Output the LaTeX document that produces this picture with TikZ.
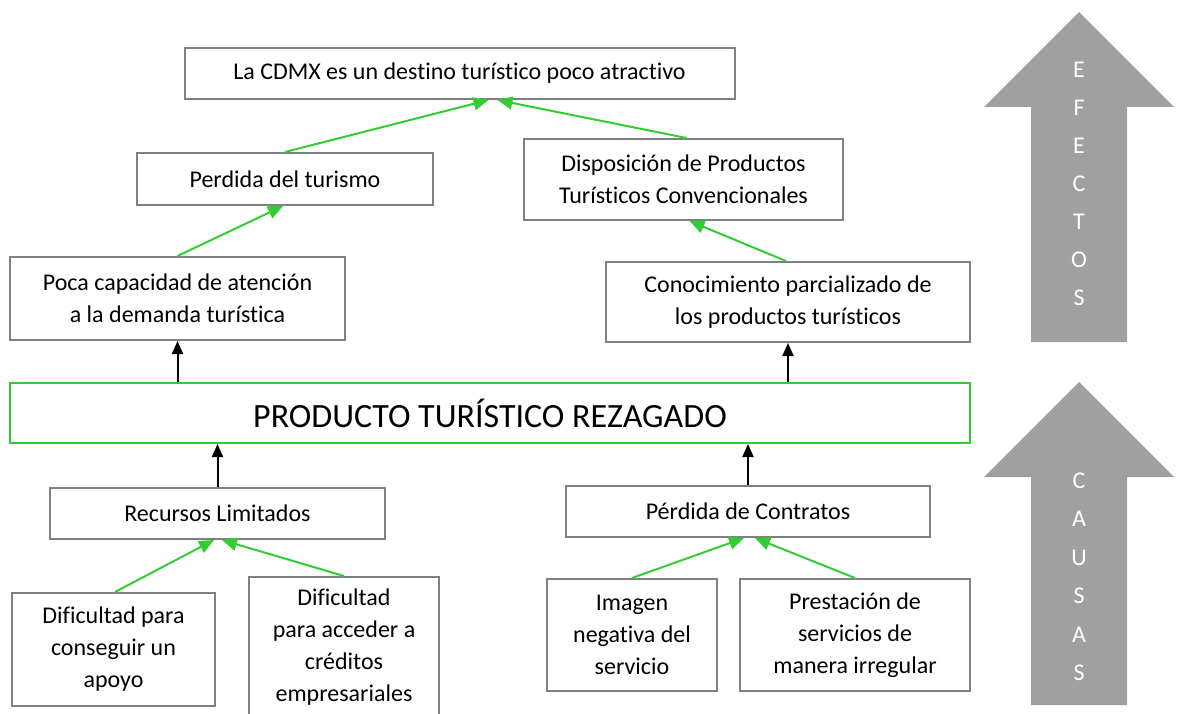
\documentclass[tikz,border=0pt]{standalone}
\usepackage{fontspec}
\setmainfont{Carlito}[Ligatures=NoCommon]
\usetikzlibrary{arrows.meta,calc}
\definecolor{boxgray}{RGB}{128,128,128}
\definecolor{lgreen}{RGB}{50,205,50}
\definecolor{bigarrow}{RGB}{160,160,160}
\begin{document}
\begin{tikzpicture}[x=1pt,y=-1pt,
  bx/.style={draw=boxgray,line width=2pt,align=center,inner sep=0pt,font=\fontsize{24}{32}\selectfont},
  garr/.style={draw=lgreen,line width=2pt,-{Triangle[length=15pt,width=13pt]},fill=lgreen},
  barr/.style={draw=black,line width=2pt,-{Triangle[length=13pt,width=11pt]}},
  letter/.style={text=white,font=\fontsize{24}{24}\selectfont,inner sep=0pt}]
\useasboundingbox (0,0) rectangle (1177,714);
% big arrows
\fill[bigarrow] (1031,342) -- (1031,107) -- (984,107) -- (1079,12) -- (1174,107) -- (1127,107) -- (1127,342) -- cycle;
\fill[bigarrow] (1031,705) -- (1031,477) -- (984,477) -- (1079,382) -- (1174,477) -- (1127,477) -- (1127,705) -- cycle;
\foreach \l [count=\i] in {E,F,E,C,T,O,S}
  \node[letter] (ef\i) at (1079,{32+38*\i}) {\l};
\foreach \l [count=\i] in {C,A,U,S,A,S}
  \node[letter] (ca\i) at (1079,{442+38.5*\i}) {\l};
% boxes
\node[bx,minimum width=550pt,minimum height=51pt] (top) at (459.5,73.5) {La CDMX es un destino turístico poco atractivo};
\node[bx,minimum width=296pt,minimum height=52pt] (perd) at (285,179) {Perdida del turismo};
\node[bx,minimum width=319pt,minimum height=81pt] (disp) at (683.5,179.5) {Disposición de Productos\\Turísticos Convencionales};
\node[bx,minimum width=335pt,minimum height=83pt] (poca) at (177.5,298.5) {Poca capacidad de atención\\a la demanda turística};
\node[bx,minimum width=364pt,minimum height=80pt] (cono) at (788,302) {Conocimiento parcializado de\\los productos turísticos};
\node[draw=lgreen,line width=2pt,inner sep=0pt,minimum width=960pt,minimum height=60pt,font=\fontsize{34}{34}\selectfont] (main) at (490,413) {PRODUCTO TURÍSTICO REZAGADO};
\node[bx,minimum width=335pt,minimum height=51pt] (rec) at (217.5,513.5) {Recursos Limitados};
\node[bx,minimum width=364pt,minimum height=51pt] (perdc) at (748,511.5) {Pérdida de Contratos};
\node[bx,minimum width=203pt,minimum height=113pt] (dif1) at (113.5,649.5) {Dificultad para\\conseguir un\\apoyo};
\node[bx,minimum width=190pt,minimum height=141pt] (dif2) at (344,647.5) {Dificultad\\para acceder a\\créditos\\empresariales};
\node[bx,minimum width=170pt,minimum height=112pt] (img) at (632,635) {Imagen\\negativa del\\servicio};
\node[bx,minimum width=230pt,minimum height=112pt] (prest) at (855,635) {Prestación de\\servicios de\\manera irregular};
% green connectors
\draw[garr] (perd.north) -- ([xshift=29pt]top.south);
\draw[garr] ([xshift=3pt]disp.north) -- ([xshift=38pt]top.south);
\draw[garr] (poca.north) -- ([xshift=-2pt]perd.south);
\draw[garr] ([xshift=-2pt]cono.north) -- ([xshift=6pt]disp.south);
\draw[garr] ([xshift=1.5pt]dif1.north) -- ([xshift=-3.5pt]rec.south);
\draw[garr] (dif2.north) -- ([xshift=4.5pt]rec.south);
\draw[garr] (img.north) -- ([xshift=-4pt]perdc.south);
\draw[garr] (prest.north) -- ([xshift=7pt]perdc.south);
% black connectors
\draw[barr] (poca.south |- main.north) -- (poca.south);
\draw[barr] (cono.south |- main.north) -- (cono.south);
\draw[barr] (rec.north) -- (rec.north |- main.south);
\draw[barr] (perdc.north) -- (perdc.north |- main.south);
\end{tikzpicture}
\end{document}
